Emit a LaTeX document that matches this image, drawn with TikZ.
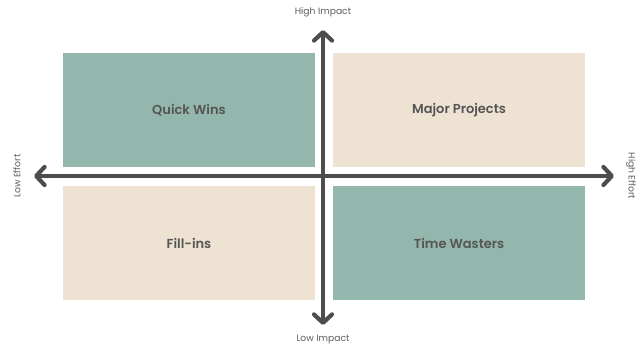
\documentclass[tikz,border=0pt]{standalone}
\usepackage{fontspec}
\setmainfont{Poppins}[BoldFont={Poppins SemiBold}]
\usetikzlibrary{arrows.meta}
\definecolor{teal}{HTML}{93B6AD}
\definecolor{sand}{HTML}{EEE3D3}
\definecolor{axis}{HTML}{4D4D4D}
\definecolor{ink}{HTML}{555555}
\definecolor{lbl}{HTML}{5E5E5E}
\begin{document}
\begin{tikzpicture}[x=1pt,y=-1pt,
  quad/.style={minimum width=252pt,minimum height=114pt,inner sep=0pt,
    font=\fontsize{13}{15}\selectfont\bfseries,text=ink},
  axisline/.style={draw=axis,line width=4.2pt,line cap=round,
    -{Straight Barb[length=8.5pt,width=18pt,line cap=round,line join=round]}},
  axislabel/.style={font=\fontsize{9.2}{11}\selectfont,text=lbl,inner sep=0pt}]
\useasboundingbox (0,0) rectangle (641,347);
\fill[white] (0,0) rectangle (641,347);
% the four quadrants
\node[quad,fill=teal] (qw) at (189,110) {Quick Wins};
\node[quad,fill=sand] (mp) at (459,110) {Major Projects};
\node[quad,fill=sand] (fi) at (189,243) {Fill-ins};
\node[quad,fill=teal] (tw) at (459,243) {Time Wasters};
% axes
\coordinate (c) at (323,176);
\coordinate (top) at (323,30);
\coordinate (bot) at (323,325);
\coordinate (lft) at (34,176);
\coordinate (rgt) at (614,176);
\draw[axisline] (c) -- (top);
\draw[axisline] (c) -- (bot);
\draw[axisline] (c) -- (lft);
\draw[axisline] (c) -- (rgt);
% axis labels
\node[axislabel] (hi) at (323,12) {High Impact};
\node[axislabel] (lo) at (323,339) {Low Impact};
\node[axislabel,rotate=90] (le) at (17,176) {Low Effort};
\node[axislabel,rotate=-90] (he) at (631,176) {High Effort};
\end{tikzpicture}
\end{document}
